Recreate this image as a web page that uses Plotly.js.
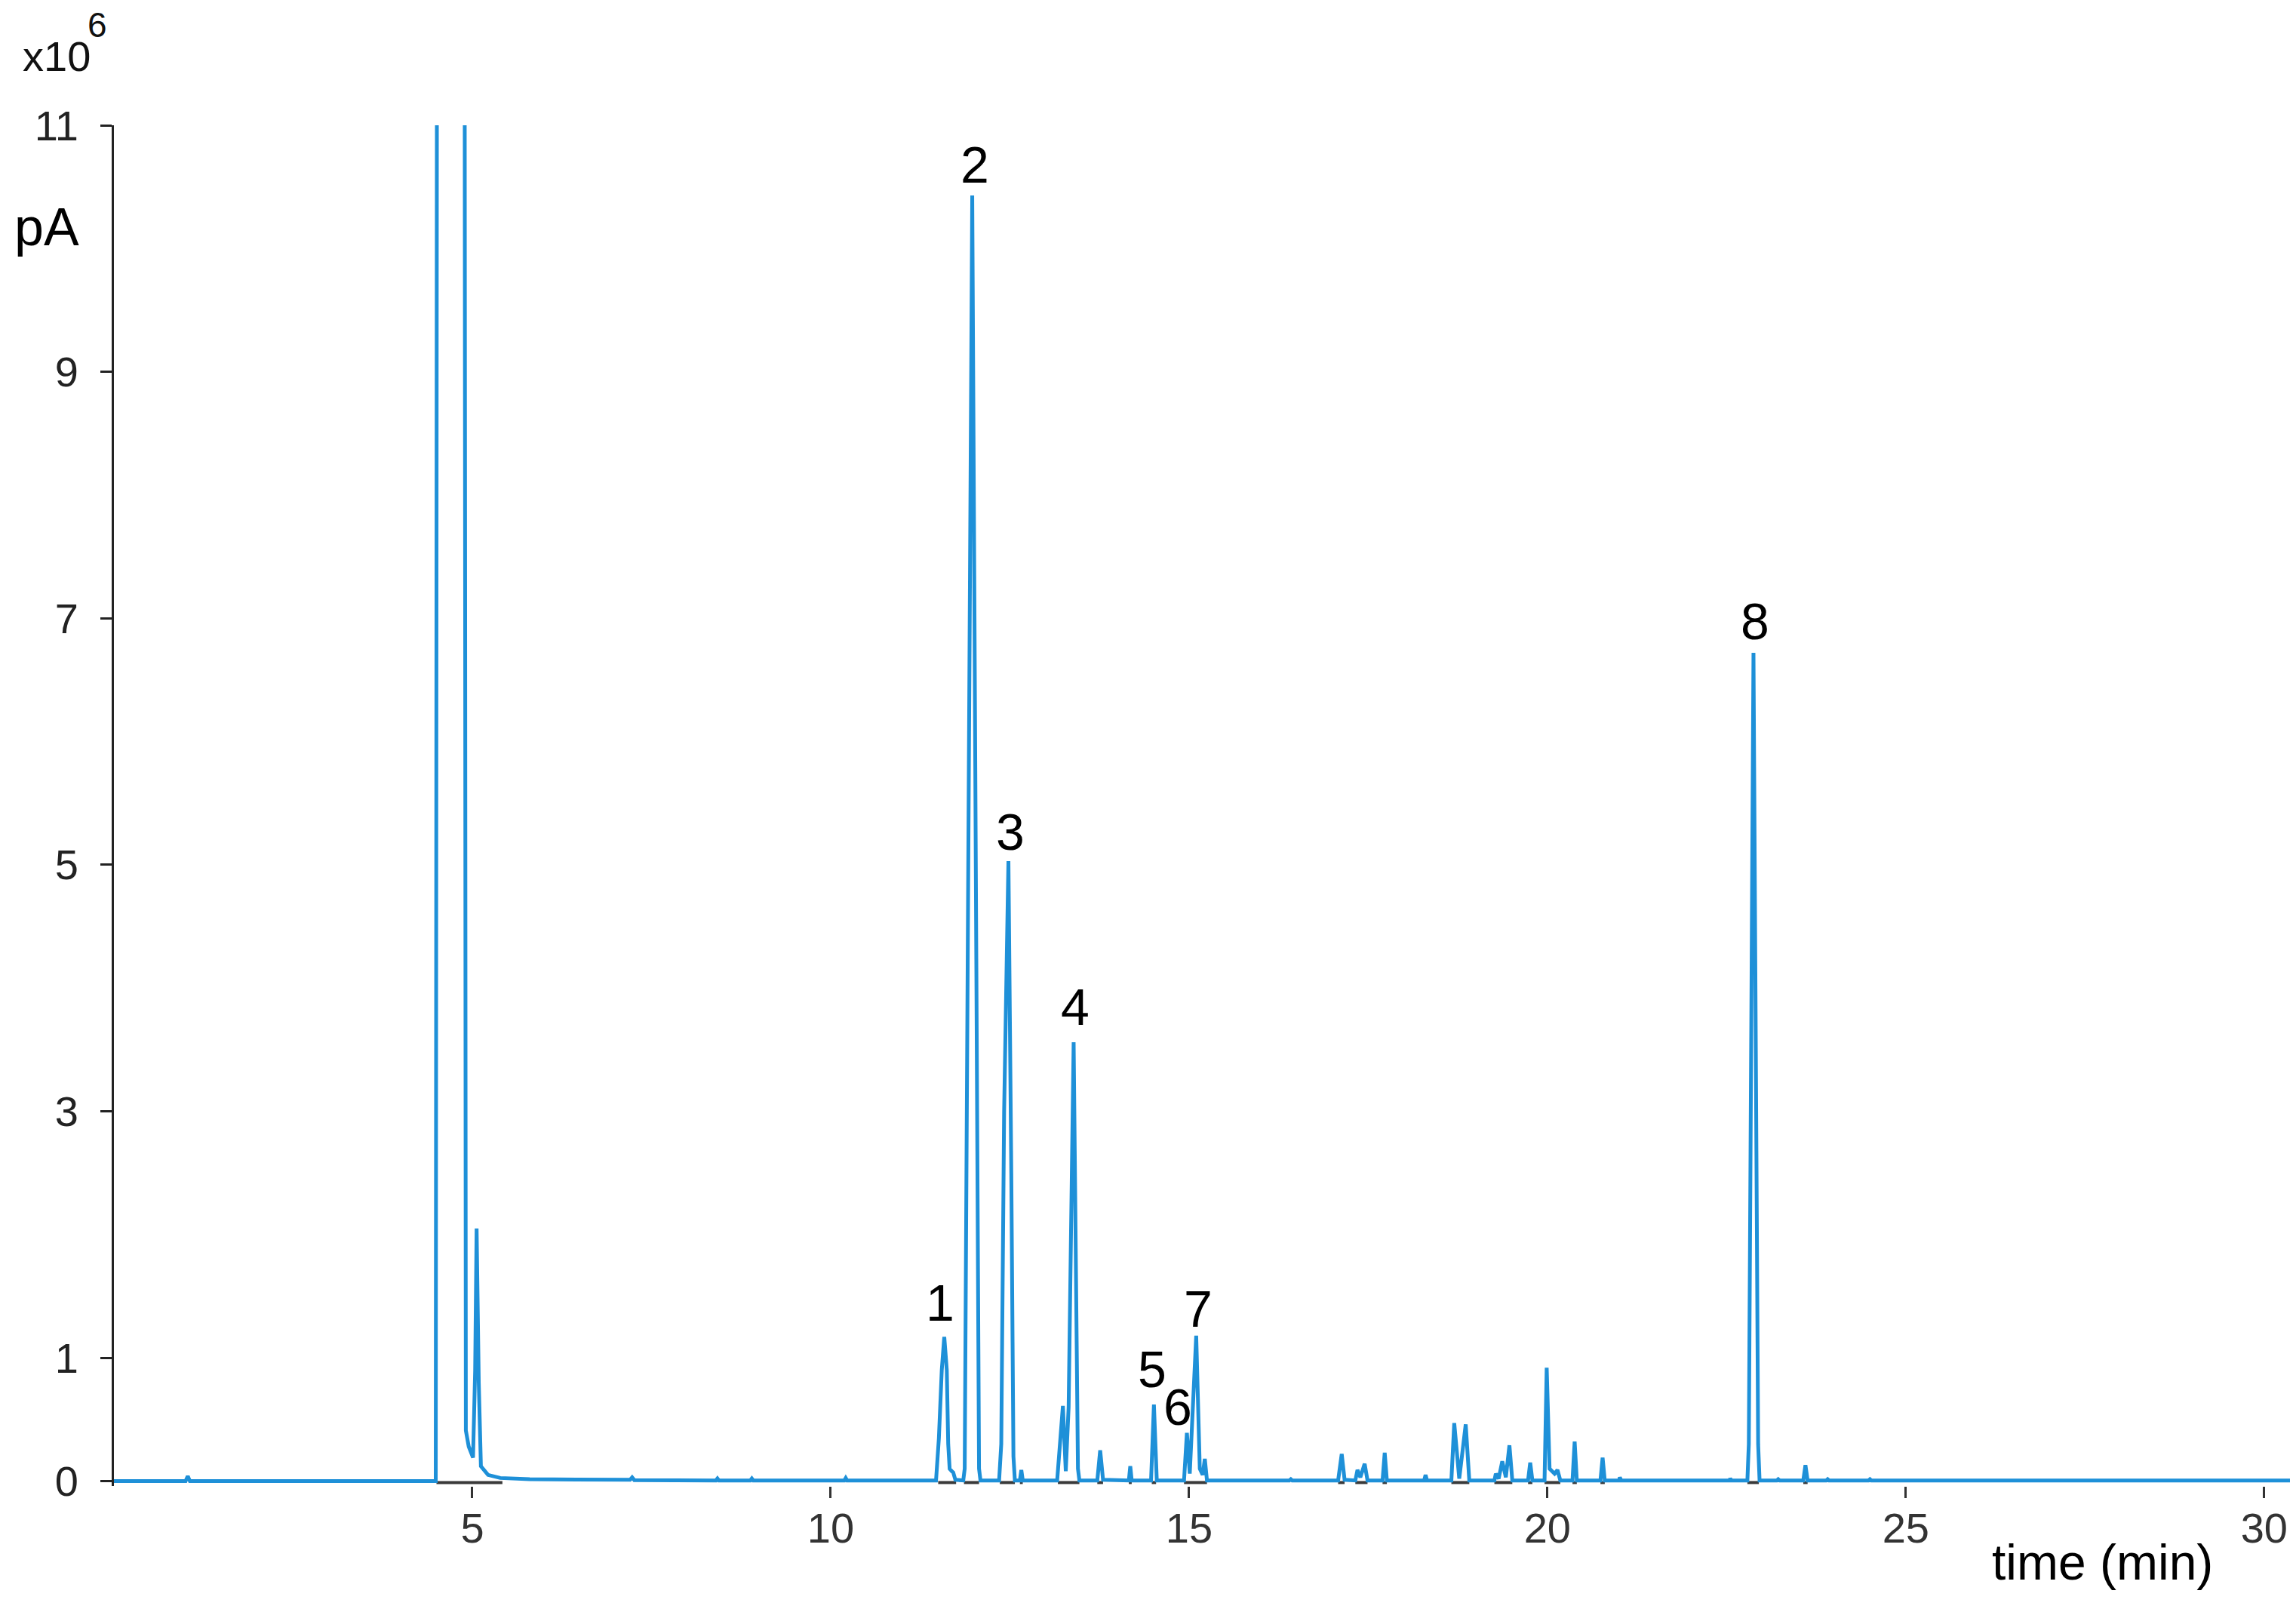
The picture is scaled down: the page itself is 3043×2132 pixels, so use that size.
<!DOCTYPE html>
<html>
<head>
<meta charset="utf-8">
<script src="https://cdn.plot.ly/plotly-3.0.1.min.js"></script>
<style>
  html, body { margin: 0; padding: 0; background: #fff; }
  #gc-plot { width: 3043px; height: 2132px; }
</style>
</head>
<body>
<div id="gc-plot"></div>
<script>
// retention time (min) and detector signal (pA, x10^6)
// solvent front goes off scale, so 14 is only "above the top"
var timeMin = [
  0.00, 1.00, 1.03, 1.06, 4.49, 4.51, 4.89, 4.91, 4.95, 5.01,
  5.04, 5.06, 5.09, 5.12, 5.22, 5.39, 5.80, 6.50, 7.20, 7.23,
  7.26, 8.40, 8.42, 8.44, 8.88, 8.90, 8.92, 10.19, 10.21, 10.23,
  11.47, 11.51, 11.55, 11.585, 11.62, 11.64, 11.66, 11.69, 11.71, 11.74,
  11.85, 11.87, 11.975, 12.07, 12.09,
  12.35, 12.38, 12.42, 12.48, 12.52, 12.55, 12.57,
  12.64, 12.66, 12.68,
  13.16, 13.20, 13.24, 13.28, 13.32, 13.39, 13.45, 13.47,
  13.72, 13.76, 13.80, 14.16, 14.18, 14.20,
  14.47, 14.51, 14.55,
  14.93, 14.97, 15.01, 15.10, 15.15, 15.19, 15.22, 15.25,
  16.40, 16.42, 16.44,
  17.08, 17.13, 17.17, 17.32, 17.35, 17.39, 17.45, 17.49,
  17.70, 17.73, 17.76, 18.28, 18.30, 18.32,
  18.66, 18.70, 18.77, 18.86, 18.91,
  19.26, 19.28, 19.32, 19.37, 19.42, 19.47, 19.51,
  19.73, 19.76, 19.79,
  19.96, 19.99, 20.03, 20.10, 20.14, 20.18,
  20.35, 20.38, 20.41, 20.74, 20.77, 20.80,
  21.00, 21.01, 21.03, 22.54, 22.55, 22.57,
  22.79, 22.81, 22.875, 22.94, 22.96,
  23.20, 23.22, 23.24, 23.57, 23.60, 23.63,
  23.89, 23.91, 23.93, 24.48, 24.50, 24.52,
  26.00, 26.02, 26.04, 28.00, 30.36
];
var signal = [
  0.000, 0.000, 0.040, 0.000, 0.000, 14.00, 14.00, 0.410, 0.280, 0.190,
  0.900, 2.050, 0.800, 0.120, 0.050, 0.025, 0.015, 0.010, 0.010, 0.030,
  0.008, 0.005, 0.020, 0.005, 0.005, 0.020, 0.005, 0.005, 0.025, 0.005,
  0.005, 0.350, 0.900, 1.170, 0.900, 0.300, 0.100, 0.080, 0.070, 0.010,
  0.005, 0.100, 10.43, 0.100, 0.005,
  0.005, 0.300, 3.000, 5.030, 2.500, 0.200, 0.005,
  0.005, 0.090, 0.005,
  0.005, 0.300, 0.610, 0.080, 0.600, 3.560, 0.100, 0.005,
  0.005, 0.250, 0.010, 0.005, 0.120, 0.005,
  0.005, 0.620, 0.005,
  0.005, 0.390, 0.060, 1.180, 0.100, 0.050, 0.180, 0.005,
  0.005, 0.015, 0.005,
  0.005, 0.220, 0.010, 0.005, 0.090, 0.030, 0.140, 0.005,
  0.005, 0.230, 0.005, 0.005, 0.050, 0.005,
  0.005, 0.470, 0.020, 0.460, 0.005,
  0.005, 0.060, 0.020, 0.160, 0.030, 0.290, 0.005,
  0.005, 0.150, 0.005,
  0.005, 0.920, 0.100, 0.060, 0.090, 0.005,
  0.005, 0.320, 0.005, 0.005, 0.190, 0.005,
  0.005, 0.030, 0.005, 0.005, 0.020, 0.005,
  0.005, 0.300, 6.720, 0.300, 0.005,
  0.005, 0.015, 0.005, 0.005, 0.130, 0.005,
  0.005, 0.015, 0.005, 0.005, 0.015, 0.005,
  0.005, 0.012, 0.005, 0.005, 0.005
];

// integration baselines drawn by the data system under each peak
var integStart = [4.50, 11.50, 11.86, 12.36, 12.64, 13.17, 13.72, 14.16, 14.48, 14.93,
                  17.08, 17.32, 17.70, 18.66, 19.26, 19.73, 19.96, 20.35, 20.74, 22.79, 23.57];
var integEnd   = [5.42, 11.75, 12.07, 12.57, 12.68, 13.47, 13.80, 14.20, 14.54, 15.25,
                  17.17, 17.49, 17.76, 18.91, 19.51, 19.79, 20.18, 20.41, 20.80, 22.95, 23.63];

// numbered peaks
var peakLabels = ['1', '2', '3', '4', '5', '6', '7', '8'];
var peakLabelX = [11.53, 12.01, 12.51, 13.41, 14.49, 14.84, 15.13, 22.90];
var peakLabelY = [1.45, 10.68, 5.27, 3.85, 0.91, 0.60, 1.40, 6.98];

var xTickVals = [5, 10, 15, 20, 25, 30];
var yTickVals = [0, 1, 3, 5, 7, 9, 11];

var FONT = 'Liberation Sans, Arial, sans-serif';

var integX = [], integY = [];
for (var i = 0; i < integStart.length; i++) {
    integX.push(integStart[i], integEnd[i], null);
    integY.push(-0.012, -0.012, null);
}

var baselines = {
    x: integX,
    y: integY,
    type: 'scatter',
    mode: 'lines',
    line: { color: '#3a3a3a', width: 4 },
    connectgaps: false,
    hoverinfo: 'skip',
    name: 'baseline'
};

var trace = {
    x: timeMin,
    y: signal,
    type: 'scatter',
    mode: 'lines',
    line: { color: '#1e90d8', width: 5 },
    name: 'FID'
};

var annotations = [];
for (var k = 0; k < peakLabels.length; k++) {
    annotations.push({
        x: peakLabelX[k], y: peakLabelY[k],
        xref: 'x', yref: 'y',
        text: peakLabels[k],
        showarrow: false,
        xanchor: 'center', yanchor: 'middle',
        font: { family: FONT, size: 68, color: '#000' }
    });
}
// axis captions placed like the original figure
annotations.push({
    xref: 'paper', yref: 'paper', x: -0.031, y: 0.925,
    text: 'pA', showarrow: false, xanchor: 'center', yanchor: 'middle',
    font: { family: FONT, size: 70, color: '#000' }
});
annotations.push({
    xref: 'paper', yref: 'paper', x: -0.0265, y: 1.051,
    text: 'x10', showarrow: false, xanchor: 'center', yanchor: 'middle',
    font: { family: FONT, size: 56, color: '#111' }
});
annotations.push({
    xref: 'paper', yref: 'paper', x: -0.0075, y: 1.074,
    text: '6', showarrow: false, xanchor: 'center', yanchor: 'middle',
    font: { family: FONT, size: 46, color: '#111' }
});
annotations.push({
    xref: 'paper', yref: 'paper', x: 0.914, y: -0.056,
    text: 'time (min)', showarrow: false, xanchor: 'center', yanchor: 'middle',
    font: { family: FONT, size: 66, color: '#000' }
});

var layout = {
    width: 3043,
    height: 2132,
    showlegend: false,
    paper_bgcolor: '#fff',
    plot_bgcolor: '#fff',
    margin: { l: 151, r: 8, t: 166, b: 163 },
    font: { family: FONT },
    xaxis: {
        range: [0, 30.36],
        tickvals: xTickVals,
        ticktext: xTickVals.map(String),
        ticks: 'outside',
        ticklen: 15,
        tickwidth: 3,
        tickcolor: '#333',
        ticklabelstandoff: -8,
        tickfont: { family: FONT, size: 56, color: '#333' },
        showline: false,
        showgrid: false,
        zeroline: false
    },
    yaxis: {
        range: [-0.04, 11],
        tickvals: yTickVals,
        ticktext: yTickVals.map(String),
        ticks: 'outside',
        ticklen: 15,
        tickwidth: 3,
        tickcolor: '#222',
        ticklabelstandoff: 18,
        tickfont: { family: FONT, size: 56, color: '#222' },
        showline: true,
        linecolor: '#222',
        linewidth: 3,
        showgrid: false,
        zeroline: false
    },
    annotations: annotations
};

var additional_param = {
    displayModeBar: false,
    staticPlot: true
};

Plotly.newPlot('gc-plot', [baselines, trace], layout, additional_param);
</script>
</body>
</html>
